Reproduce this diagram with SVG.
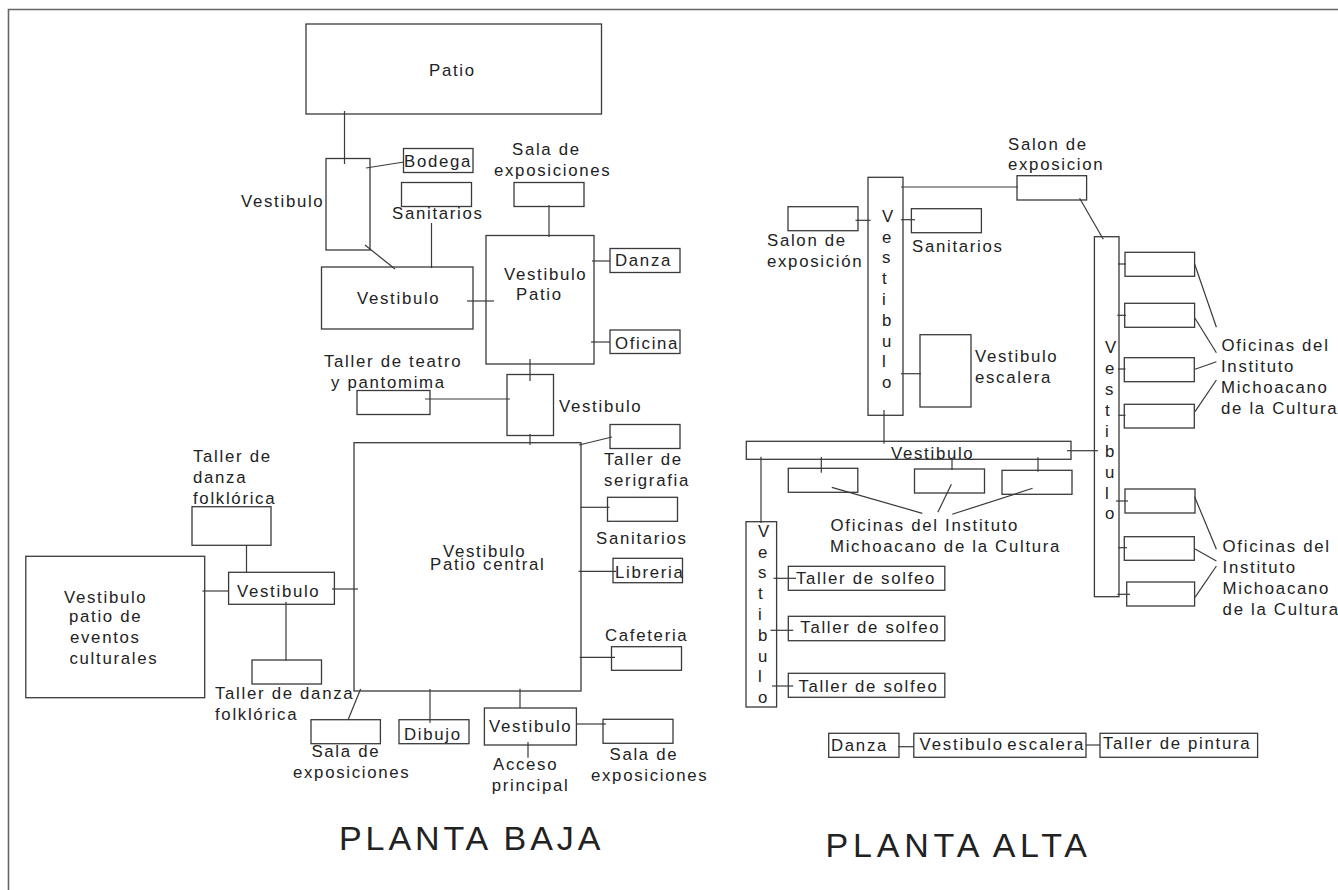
<svg xmlns="http://www.w3.org/2000/svg" width="1338" height="890" viewBox="0 0 1338 890">
<style>
rect{fill:#fff;stroke:#3a3a3a;stroke-width:1.3}
line{stroke:#3a3a3a;stroke-width:1.2}
text{font-family:"Liberation Sans",Arial,sans-serif;font-size:16.8px;letter-spacing:1.7px;fill:#222}
.t{font-size:34px;letter-spacing:3.9px}
#frame path{fill:none;stroke:#666;stroke-width:1.6}
</style>
<rect x="0" y="0" width="1338" height="890" style="stroke:none"/>
<g id="frame"><path d="M8.500 890V9.500H1338"/></g>
<g id="nodes-pb">
<g id="patio"><rect x="306" y="24" width="295.500" height="90"/><text x="429" y="76">Patio</text></g>
<g id="vest1"><rect x="326" y="158.500" width="44" height="91.500"/><text x="241" y="207">Vestibulo</text></g>
<g id="bodega"><rect x="403.500" y="148.500" width="69.500" height="24"/><text x="404" y="167">Bodega</text></g>
<g id="san1"><rect x="401.500" y="182.500" width="70" height="24"/><text x="392" y="219">Sanitarios</text></g>
<g id="sala1"><rect x="514" y="182.500" width="70" height="24"/><text x="512" y="155">Sala de</text><text x="494" y="176">exposiciones</text></g>
<g id="vest2"><rect x="321.500" y="267" width="151.500" height="62"/><text x="357" y="304">Vestibulo</text></g>
<g id="vestpatio"><rect x="486" y="235.500" width="108" height="128.500"/><text x="504" y="280">Vestibulo</text><text x="516" y="300">Patio</text></g>
<g id="danza1"><rect x="610" y="248.500" width="70" height="24"/><text x="615" y="266">Danza</text></g>
<g id="oficina"><rect x="610" y="330" width="70" height="23.500"/><text x="615" y="349">Oficina</text></g>
<g id="vest3"><rect x="507" y="374.500" width="46.500" height="61"/><text x="559" y="412">Vestibulo</text></g>
<g id="teatro"><rect x="357" y="390.500" width="73" height="24"/><text x="324" y="367">Taller de teatro</text><text x="331" y="388">y pantomima</text></g>
<g id="serigrafia"><rect x="610" y="424.500" width="70" height="24"/><text x="604" y="465">Taller de</text><text x="604" y="486">serigrafia</text></g>
<g id="central"><rect x="354" y="442.700" width="227" height="248.300"/><text x="443" y="556.700">Vestibulo</text><text x="430" y="570">Patio central</text></g>
<g id="san2"><rect x="607.500" y="497.300" width="70" height="24"/><text x="596" y="544">Sanitarios</text></g>
<g id="libreria"><rect x="613" y="558.300" width="69.500" height="24.400"/><text x="615" y="577.700">Libreria</text></g>
<g id="cafeteria"><rect x="611.500" y="646.700" width="70" height="23.600"/><text x="605" y="641">Cafeteria</text></g>
<g id="dfolk1"><rect x="192" y="506.700" width="79" height="38.600"/><text x="193" y="462">Taller de</text><text x="193" y="483">danza</text><text x="193" y="504">folklórica</text></g>
<g id="vest4"><rect x="228.600" y="572.300" width="105.800" height="32"/><text x="237" y="597">Vestibulo</text></g>
<g id="eventos"><rect x="25.800" y="556.300" width="178.900" height="141.400"/><text x="64" y="603">Vestibulo</text><text x="69" y="622">patio de</text><text x="70" y="643">eventos</text><text x="69.500" y="664">culturales</text></g>
<g id="dfolk2"><rect x="252" y="660" width="69.500" height="24"/><text x="215" y="699">Taller de danza</text><text x="215" y="720">folklórica</text></g>
<g id="sala2"><rect x="311" y="719.700" width="69.400" height="24"/><text x="311.400" y="757">Sala de</text><text x="293" y="778">exposiciones</text></g>
<g id="dibujo"><rect x="399" y="719.700" width="70" height="24"/><text x="404" y="740">Dibujo</text></g>
<g id="acceso"><rect x="484.400" y="708" width="92" height="37"/><text x="489" y="732">Vestibulo</text><text x="493" y="770">Acceso</text><text x="491.700" y="791">principal</text></g>
<g id="sala3"><rect x="603" y="719.300" width="70" height="24"/><text x="609.500" y="760">Sala de</text><text x="591" y="781">exposiciones</text></g>
<text class="t" x="339" y="850">PLANTA BAJA</text>
</g>
<g id="nodes-pa">
<g id="salon1"><rect x="1017" y="175.700" width="69.600" height="24.300"/><text x="1008" y="150">Salon de</text><text x="1008" y="170">exposicion</text></g>
<g id="vest5"><rect x="868" y="177.300" width="35" height="238"/><text x="882"><tspan x="882" y="222">V</tspan><tspan x="882" y="243">e</tspan><tspan x="882" y="263">s</tspan><tspan x="882" y="284">t</tspan><tspan x="882" y="305">i</tspan><tspan x="882" y="326">b</tspan><tspan x="882" y="347">u</tspan><tspan x="882" y="367">l</tspan><tspan x="882" y="388">o</tspan></text></g>
<g id="salon2"><rect x="788" y="206.700" width="70" height="24"/><text x="767" y="246">Salon de</text><text x="767" y="267">exposición</text></g>
<g id="san3"><rect x="911.400" y="208.700" width="70" height="24"/><text x="912" y="252.300">Sanitarios</text></g>
<g id="vescalera"><rect x="920" y="334.700" width="51" height="72.300"/><text x="975" y="362">Vestibulo</text><text x="975" y="383.300">escalera</text></g>
<g id="vest6"><rect x="746.300" y="441.300" width="324.700" height="18"/><text x="891" y="458.700">Vestibulo</text></g>
<g id="vest7"><rect x="1094.400" y="236.700" width="24.600" height="360"/><text x="1105"><tspan x="1105" y="353">V</tspan><tspan x="1105" y="374">e</tspan><tspan x="1105" y="395">s</tspan><tspan x="1105" y="416">t</tspan><tspan x="1105" y="437">i</tspan><tspan x="1105" y="457">b</tspan><tspan x="1105" y="478">u</tspan><tspan x="1105" y="499">l</tspan><tspan x="1105" y="519">o</tspan></text></g>
<g id="of1"><rect x="1125" y="252.300" width="69.600" height="24"/></g>
<g id="of2"><rect x="1124.700" y="303.300" width="69.900" height="24"/></g>
<g id="of3"><rect x="1124.300" y="357.700" width="70" height="24"/></g>
<g id="of4"><rect x="1124.300" y="404.300" width="70" height="23.700"/></g>
<g id="of5"><rect x="1125" y="489" width="70" height="24"/></g>
<g id="of6"><rect x="1124.300" y="536.700" width="70" height="23.600"/></g>
<g id="of7"><rect x="1126.700" y="582" width="67.900" height="24"/></g>
<g id="of8"><rect x="788.300" y="468.300" width="69.500" height="24"/></g>
<g id="of9"><rect x="914.500" y="469" width="70" height="24"/></g>
<g id="of10"><rect x="1002" y="470.300" width="70" height="24"/></g>
<g id="oflabel1"><text x="1221.500" y="351">Oficinas del</text><text x="1221" y="372.300">Instituto</text><text x="1221" y="393.300">Michoacano</text><text x="1221" y="414.300">de la Cultura</text></g>
<g id="oflabel2"><text x="1222.600" y="552">Oficinas del</text><text x="1222.600" y="573">Instituto</text><text x="1222.600" y="594">Michoacano</text><text x="1222.600" y="615">de la Cultura</text></g>
<g id="oflabel3"><text x="830.600" y="531">Oficinas del Instituto</text><text x="830" y="552">Michoacano de la Cultura</text></g>
<g id="vest8"><rect x="746" y="521.700" width="30.600" height="185.300"/><text x="758"><tspan x="758" y="537">V</tspan><tspan x="758" y="558">e</tspan><tspan x="758" y="578">s</tspan><tspan x="758" y="599">t</tspan><tspan x="758" y="620">i</tspan><tspan x="758" y="641">b</tspan><tspan x="758" y="662">u</tspan><tspan x="758" y="682">l</tspan><tspan x="758" y="703">o</tspan></text></g>
<g id="solfeo1"><rect x="788.300" y="566.300" width="156.500" height="24"/><text x="796" y="584">Taller de solfeo</text></g>
<g id="solfeo2"><rect x="788.300" y="616.300" width="156.500" height="24.400"/><text x="800.300" y="633">Taller de solfeo</text></g>
<g id="solfeo3"><rect x="788.300" y="673.300" width="156.500" height="24"/><text x="798.400" y="691.700">Taller de solfeo</text></g>
<g id="danza2"><rect x="828.700" y="733.300" width="70.300" height="24"/><text x="831" y="751">Danza</text></g>
<g id="vescalera2"><rect x="913.800" y="733.300" width="172.200" height="24"/><text x="919.600" y="749.700" style="letter-spacing:1.8px;word-spacing:-3px">Vestibulo escalera</text></g>
<g id="pintura"><rect x="1100" y="733.300" width="157.600" height="24"/><text x="1103" y="748.700">Taller de pintura</text></g>
<text class="t" x="825.600" y="857.300" style="letter-spacing:4.8px;word-spacing:-2px">PLANTA ALTA</text>
</g>
<g id="connectors">
<line x1="344.500" y1="111" x2="344.500" y2="164"/><line x1="366" y1="168" x2="404" y2="162"/><line x1="549" y1="205" x2="549" y2="237"/><line x1="365" y1="245" x2="395" y2="269"/><line x1="431.500" y1="223" x2="431.500" y2="268"/><line x1="467" y1="301" x2="494" y2="301"/><line x1="592" y1="261" x2="610" y2="261"/><line x1="591" y1="342" x2="610" y2="342"/><line x1="530" y1="359" x2="530" y2="381"/><line x1="425" y1="399" x2="510" y2="399"/><line x1="579" y1="445" x2="612" y2="437"/><line x1="530" y1="434" x2="530" y2="445"/>
<line x1="246.500" y1="545" x2="246.500" y2="572"/><line x1="202.400" y1="591" x2="228.600" y2="591"/><line x1="332" y1="589" x2="358" y2="589"/><line x1="286" y1="601.700" x2="286" y2="660.700"/><line x1="360.600" y1="689" x2="348" y2="720"/><line x1="430" y1="689" x2="430" y2="722.700"/><line x1="520" y1="688.700" x2="520" y2="708"/><line x1="528" y1="742" x2="528" y2="757.700"/><line x1="576.400" y1="724" x2="606" y2="724"/><line x1="580.500" y1="507.300" x2="609.500" y2="507.300"/><line x1="578.600" y1="571.300" x2="616" y2="571.300"/><line x1="579.600" y1="657.300" x2="615" y2="657.300"/>
<line x1="901" y1="187" x2="1018" y2="187"/><line x1="855.500" y1="220.300" x2="870.600" y2="220.300"/><line x1="901" y1="219.700" x2="915" y2="219.700"/><line x1="901" y1="373.700" x2="921" y2="373.700"/><line x1="884" y1="410" x2="884" y2="443.700"/><line x1="1067" y1="450.700" x2="1098" y2="450.700"/><line x1="1079.600" y1="198.300" x2="1103.300" y2="239.300"/>
<line x1="1118" y1="264" x2="1126" y2="264"/><line x1="1117.300" y1="315.300" x2="1126" y2="315.300"/><line x1="1118" y1="369" x2="1125.500" y2="369"/><line x1="1118.500" y1="415.300" x2="1125.500" y2="415.300"/><line x1="1116" y1="501" x2="1128" y2="501"/><line x1="1118" y1="547.700" x2="1127" y2="547.700"/><line x1="1117.300" y1="594.300" x2="1130" y2="594.300"/>
<line x1="1194.600" y1="264" x2="1216.400" y2="327.300"/><line x1="1195" y1="318.300" x2="1216.400" y2="352.700"/><line x1="1195" y1="369.300" x2="1216.400" y2="361.700"/><line x1="1195" y1="411.700" x2="1216.400" y2="380"/><line x1="1194.600" y1="496.700" x2="1216.400" y2="549.300"/><line x1="1195" y1="549" x2="1216.400" y2="561"/><line x1="1195" y1="597.300" x2="1216.400" y2="566"/>
<line x1="821.300" y1="457" x2="821.300" y2="472.700"/><line x1="952" y1="459.300" x2="952" y2="470"/><line x1="1038" y1="457.300" x2="1038" y2="471.700"/><line x1="831.800" y1="487.300" x2="922.300" y2="513.300"/><line x1="951.400" y1="484.300" x2="937.800" y2="512.300"/><line x1="1032.600" y1="488.300" x2="952.200" y2="514.300"/>
<line x1="761" y1="456.700" x2="761" y2="523"/><line x1="773.500" y1="578.300" x2="796" y2="578.300"/><line x1="770.400" y1="630.300" x2="793.300" y2="630.300"/><line x1="772" y1="686" x2="793.300" y2="686"/><line x1="898" y1="746.700" x2="913.800" y2="746.700"/><line x1="1086" y1="745" x2="1100" y2="745"/>
</g>
</svg>
